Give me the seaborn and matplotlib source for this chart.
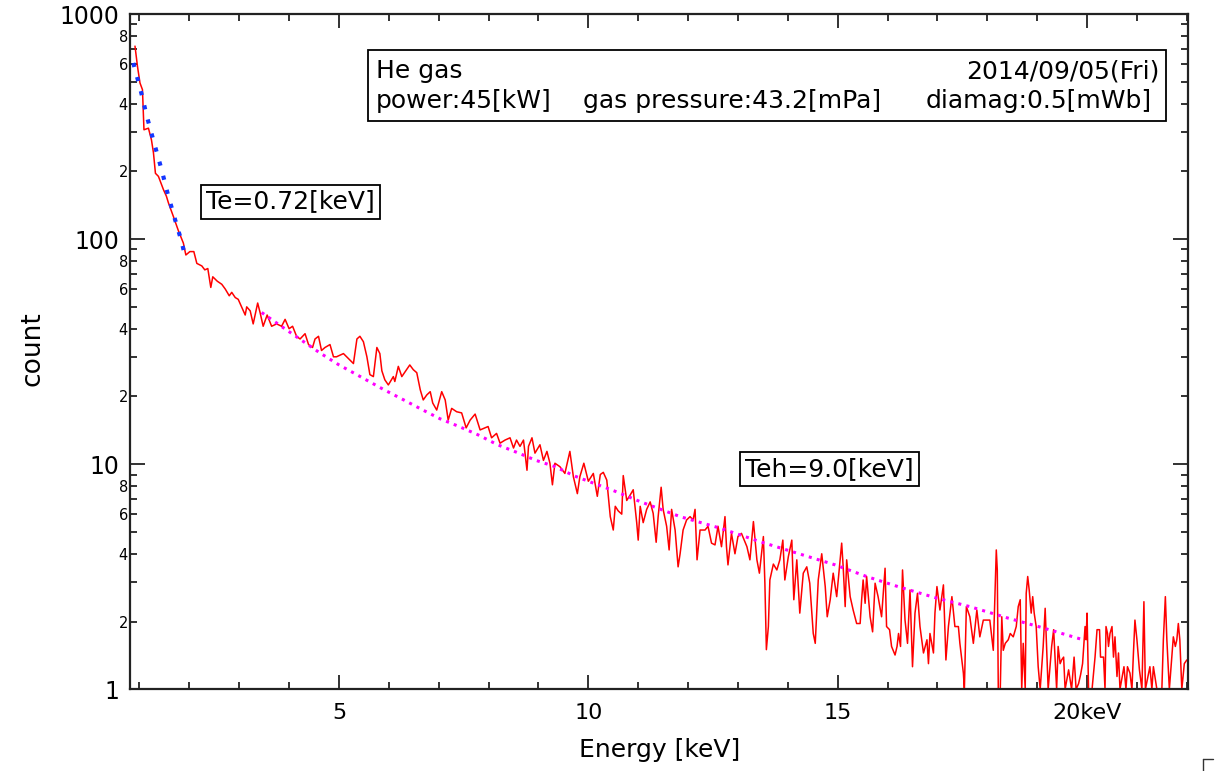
# X-ray energy spectrum (He gas, 2014/09/05) with two temperature fits
import numpy as np
import pandas as pd
import matplotlib
matplotlib.use("Agg")
import matplotlib.pyplot as plt
import seaborn as sns
from matplotlib.ticker import FixedLocator, FuncFormatter
from matplotlib.patches import Rectangle
from matplotlib.lines import Line2D

# measured spectrum (keV, count)
spec_energy = [
    0.91, 0.96, 1.01, 1.06, 1.09, 1.18, 1.24, 1.28, 1.32, 1.38, 1.48, 1.54, 1.58, 1.68, 1.78,
    1.88, 1.93, 2.01, 2.09, 2.15, 2.25, 2.31, 2.37, 2.43, 2.47, 2.56, 2.65, 2.72, 2.80, 2.85,
    2.92, 2.98, 3.03, 3.12, 3.15, 3.22, 3.28, 3.37, 3.42, 3.48, 3.56, 3.65, 3.75, 3.85, 3.92,
    4.00, 4.07, 4.15, 4.22, 4.32, 4.39, 4.47, 4.52, 4.59, 4.65, 4.72, 4.82, 4.89, 4.95, 5.09,
    5.22, 5.29, 5.36, 5.42, 5.49, 5.56, 5.62, 5.69, 5.76, 5.82, 5.86, 5.92, 5.99, 6.09, 6.12,
    6.19, 6.26, 6.33, 6.42, 6.49, 6.56, 6.63, 6.69, 6.76, 6.83, 6.88, 6.96, 7.06, 7.13, 7.19,
    7.26, 7.36, 7.46, 7.55, 7.63, 7.73, 7.83, 7.93, 7.99, 8.06, 8.16, 8.23, 8.33, 8.43, 8.50,
    8.56, 8.63, 8.70, 8.77, 8.80, 8.87, 8.93, 9.03, 9.10, 9.17, 9.23, 9.28, 9.33, 9.43, 9.53,
    9.63, 9.70, 9.78, 9.83, 9.91, 10.00, 10.10, 10.18, 10.24, 10.30, 10.37, 10.44, 10.50, 10.54, 10.60,
    10.67, 10.70, 10.77, 10.84, 10.90, 10.97, 11.00, 11.04, 11.10, 11.17, 11.24, 11.30, 11.36, 11.40, 11.46,
    11.50, 11.57, 11.62, 11.67, 11.74, 11.80, 11.84, 11.90, 11.97, 12.04, 12.10, 12.14, 12.18, 12.24, 12.34,
    12.40, 12.47, 12.54, 12.60, 12.67, 12.74, 12.77, 12.80, 12.87, 12.94, 13.00, 13.07, 13.18, 13.24, 13.31,
    13.38, 13.43, 13.51, 13.54, 13.57, 13.61, 13.64, 13.71, 13.78, 13.84, 13.90, 13.94, 14.01, 14.08, 14.12,
    14.18, 14.24, 14.31, 14.38, 14.44, 14.51, 14.55, 14.61, 14.68, 14.75, 14.79, 14.85, 14.91, 14.98, 15.05,
    15.08, 15.11, 15.15, 15.18, 15.25, 15.31, 15.38, 15.45, 15.48, 15.51, 15.55, 15.58, 15.65, 15.70, 15.75,
    15.81, 15.88, 15.95, 15.98, 16.04, 16.08, 16.15, 16.19, 16.22, 16.26, 16.30, 16.35, 16.40, 16.45, 16.50,
    16.55, 16.60, 16.65, 16.72, 16.79, 16.82, 16.85, 16.92, 16.95, 16.99, 17.05, 17.12, 17.17, 17.22, 17.29,
    17.35, 17.42, 17.45, 17.52, 17.54, 17.58, 17.65, 17.72, 17.79, 17.85, 17.92, 17.99, 18.05, 18.12, 18.18,
    18.20, 18.22, 18.26, 18.29, 18.32, 18.36, 18.42, 18.46, 18.52, 18.58, 18.62, 18.66, 18.69, 18.72, 18.76,
    18.78, 18.81, 18.84, 18.88, 18.91, 18.94, 18.98, 19.02, 19.06, 19.12, 19.16, 19.19, 19.22, 19.29, 19.33,
    19.36, 19.39, 19.42, 19.46, 19.49, 19.53, 19.56, 19.63, 19.69, 19.74, 19.78, 19.83, 19.87, 19.91, 19.96,
    19.98, 20.00, 20.03, 20.10, 20.16, 20.20, 20.25, 20.27, 20.33, 20.36, 20.38, 20.41, 20.43, 20.46, 20.50,
    20.53, 20.56, 20.60, 20.63, 20.66, 20.74, 20.78, 20.81, 20.86, 20.90, 20.93, 20.96, 21.00, 21.05, 21.10,
    21.12, 21.14, 21.17, 21.26, 21.30, 21.33, 21.40, 21.50, 21.53, 21.57, 21.60, 21.65, 21.73, 21.77, 21.80,
    21.83, 21.86, 21.90, 21.95, 22.00,
]
spec_count = [
    720, 585, 494, 461, 306, 311, 276, 242, 196, 190, 166, 155, 145, 126, 109,
    96, 85, 88, 88, 78, 76, 73, 74, 61, 68, 65, 63, 60, 56, 58,
    55, 54, 51, 46, 50, 48, 42, 52, 47, 41, 46, 41, 42, 41, 44,
    40, 41, 37, 36, 38, 34, 33, 36, 37, 32, 33, 34, 30, 30, 31,
    29, 28, 36, 37, 35, 30, 25, 24.5, 33, 31, 26, 23.7, 22.5, 24.5, 23.3,
    27.2, 24.5, 25.8, 27.6, 26.3, 25.5, 21.4, 19.3, 20.3, 21, 18.7, 17.4, 21, 19.3, 15.7,
    17.7, 17.1, 16.9, 14.5, 15.7, 16.7, 14.2, 14.5, 14.7, 13.1, 13.7, 12.4, 12.8, 13.1, 11.8,
    12.8, 12, 12.8, 9.4, 12, 13.1, 11.2, 12.2, 10.4, 11.4, 10.1, 8.1, 10.1, 9.75, 9.1,
    11.4, 8.8, 7.4, 8.8, 10.1, 8.4, 9.1, 7.2, 9.0, 9.2, 8.5, 5.85, 5.1, 6.5, 6.2,
    6.0, 8.9, 6.9, 7.3, 7.7, 5.5, 4.6, 6.5, 5.5, 6.3, 6.8, 6.05, 4.5, 5.85, 7.9,
    6.3, 5.3, 4.16, 6.3, 5.1, 3.5, 4.0, 5.1, 5.65, 5.85, 5.65, 6.3, 3.76, 5.1, 5.1,
    5.3, 4.46, 4.38, 5.3, 4.3, 5.85, 4.3, 3.57, 4.93, 4.0, 4.77, 4.93, 4.3, 3.76, 5.56,
    3.76, 3.28, 4.77, 2.96, 1.5, 1.9, 3.06, 3.6, 3.39, 3.76, 4.6, 3.06, 3.88, 4.6, 2.5,
    3.76, 2.18, 3.28, 3.5, 2.96, 1.77, 1.6, 3.06, 4.0, 2.86, 2.1, 2.5, 3.28, 2.58, 3.76,
    4.46, 3.5, 2.33, 3.76, 2.58, 2.25, 1.96, 1.96, 2.5, 3.06, 2.41, 3.17, 2.1, 1.8, 2.96,
    2.58, 2.1, 3.45, 1.9, 1.84, 1.55, 1.42, 1.55, 1.77, 1.55, 3.39, 2.03, 1.6, 2.76, 1.26,
    2.18, 2.67, 1.9, 1.45, 1.66, 1.3, 1.77, 1.45, 2.18, 2.86, 2.25, 2.91, 1.35, 1.9, 2.58,
    1.9, 1.9, 1.6, 1.18, 1.0, 2.33, 2.1, 1.6, 2.25, 1.71, 2.03, 2.03, 2.03, 1.49, 4.16,
    3.39, 1.0, 1.0, 2.1, 1.49, 1.6, 1.66, 1.77, 1.71, 1.9, 2.33, 2.5, 1.0, 1.6, 1.0,
    2.67, 3.17, 2.76, 2.18, 2.58, 2.18, 1.9, 1.26, 1.0, 1.55, 2.29, 1.49, 1.0, 1.55, 1.84,
    1.35, 1.0, 1.55, 1.3, 1.35, 1.39, 1.0, 1.22, 1.0, 1.39, 1.0, 1.06, 1.16, 1.3, 1.9,
    1.66, 2.18, 1.0, 1.0, 1.39, 1.84, 1.84, 1.39, 1.39, 1.0, 1.9, 1.77, 1.55, 1.77, 1.9,
    1.39, 1.71, 1.14, 1.45, 1.0, 1.26, 1.0, 1.26, 1.18, 1.0, 1.45, 2.03, 1.66, 1.22, 1.0,
    1.6, 2.45, 1.0, 1.26, 1.0, 1.26, 1.0, 1.0, 1.66, 2.58, 1.66, 1.0, 1.71, 1.55, 1.66,
    1.96, 1.66, 1.0, 1.3, 1.35,
]

# cold component fit, Te = 0.72 keV
te_fit_energy = [0.876, 1.025, 1.145, 1.29, 1.445, 1.566, 1.70, 1.85, 1.91]
te_fit_count = [606, 457, 353, 269, 203, 159, 125, 96.6, 84.3]

# hot component fit, Teh = 9.0 keV
teh_fit_energy = [3.45, 3.85, 4.22, 4.61, 4.99, 5.37, 5.89, 6.26, 6.64, 7.03, 7.41, 7.79,
                  8.18, 8.56, 8.95, 9.33, 9.72, 10.1, 10.5, 11.04, 11.84, 12.64, 13.44,
                  14.24, 14.95, 15.58, 16.25, 16.99, 17.65, 18.42, 19.06, 19.92]
teh_fit_count = [47.2, 40.9, 35.9, 31.3, 27.7, 24.9, 21.5, 19.5, 17.6, 15.9, 14.7, 13.5,
                 12.2, 11.3, 10.4, 9.76, 8.87, 8.24, 7.64, 6.82, 5.85, 5.2, 4.53,
                 3.99, 3.57, 3.17, 2.84, 2.54, 2.33, 2.07, 1.89, 1.66]

x_major = [5, 10, 15, 20]
x_major_labels = ["5", "10", "15", "20keV"]
y_major = [1, 10, 100, 1000]

sns.set_style("ticks")
plt.rcParams["font.family"] = ["DejaVu Sans"]
plt.rcParams.update({"text.color": "black", "axes.labelcolor": "black",
                     "xtick.color": "black", "ytick.color": "black"})

W, H = 1217, 771
fx = lambda px: px / W
fy = lambda py: 1 - py / H

fig = plt.figure(figsize=(W / 100, H / 100), dpi=100)
ax = fig.add_axes([fx(130), fy(689.3), fx(1188.3) - fx(130), fy(14) - fy(689.3)])

spec = pd.DataFrame({"Energy": spec_energy, "count": spec_count})
sns.lineplot(data=spec, x="Energy", y="count", color="#ff0000", lw=1.1,
             estimator=None, sort=False, ax=ax)
sns.lineplot(x=te_fit_energy, y=te_fit_count, color="#1436ff", lw=3.0,
             linestyle=(0, (1, 2.5)), estimator=None, sort=False, ax=ax)
sns.lineplot(x=teh_fit_energy, y=teh_fit_count, color="#ff00ff", lw=2.2,
             linestyle=(0, (1, 1.7)), estimator=None, sort=False, ax=ax)

ax.set_yscale("log")
ax.set_xlim(0.81, 22.03)
ax.set_ylim(1, 1000)

# ticks
ax.xaxis.set_major_locator(FixedLocator(x_major))
ax.xaxis.set_major_formatter(FuncFormatter(lambda v, p: x_major_labels[p] if p is not None and p < len(x_major_labels) else ""))
ax.xaxis.set_minor_locator(FixedLocator(range(1, 23)))
ax.yaxis.set_major_locator(FixedLocator(y_major))
ax.yaxis.set_major_formatter(FuncFormatter(lambda v, p: "%d" % round(v)))
y_minor = [m * 10 ** k for k in range(3) for m in range(2, 10)]
ax.yaxis.set_minor_locator(FixedLocator(y_minor))


def minor_fmt(v, pos):
    m = int(round(v / 10 ** np.floor(np.log10(v) + 1e-9)))
    return str(m) if m in (2, 4, 6, 8) else ""


ax.yaxis.set_minor_formatter(FuncFormatter(minor_fmt))

ax.tick_params(which="both", direction="in", top=True, right=True, color="#222222", width=1.3)
ax.tick_params(axis="x", which="major", length=10, labelsize=16, pad=10)
ax.tick_params(axis="x", which="minor", length=5)
ax.tick_params(axis="y", which="major", length=11, labelsize=17, pad=8)
ax.tick_params(axis="y", which="minor", length=5, labelsize=10.5, pad=1.5)
for s in ax.spines.values():
    s.set_linewidth(1.6)
    s.set_color("#222222")

ax.set_xlabel("Energy [keV]", fontsize=18)
ax.set_ylabel("count", fontsize=19)
ax.xaxis.set_label_coords(0.5, -0.072)
ax.yaxis.set_label_coords(-0.080, 0.504)

# info box at top
fig.add_artist(Rectangle((fx(368), fy(121)), fx(1166) - fx(368), fy(50) - fy(121),
                         transform=fig.transFigure, fill=True, facecolor="white",
                         edgecolor="black", lw=1.3))
fs = 18
fig.text(fx(376), fy(71), "He gas", ha="left", va="center", fontsize=fs)
fig.text(fx(1160), fy(71), "2014/09/05(Fri)", ha="right", va="center", fontsize=fs)
fig.text(fx(376), fy(101), "power:45[kW]", ha="left", va="center", fontsize=fs)
fig.text(fx(583), fy(101), "gas pressure:43.2[mPa]", ha="left", va="center", fontsize=fs)
fig.text(fx(1152), fy(101), "diamag:0.5[mWb]", ha="right", va="center", fontsize=fs)

box = dict(boxstyle="square,pad=0.2", facecolor="white", edgecolor="black", lw=1.3)
fig.text(fx(290.5), fy(201.5), "Te=0.72[keV]", ha="center", va="center", fontsize=18, bbox=box)
fig.text(fx(829.5), fy(469), "Teh=9.0[keV]", ha="center", va="center", fontsize=18, bbox=box)

# small corner mark at lower right
fig.add_artist(Line2D([fx(1203), fx(1213)], [fy(759), fy(759)], transform=fig.transFigure, color="#333333", lw=1))
fig.add_artist(Line2D([fx(1203), fx(1203)], [fy(759), fy(771)], transform=fig.transFigure, color="#333333", lw=1))

fig.savefig("out.png", dpi=100)
